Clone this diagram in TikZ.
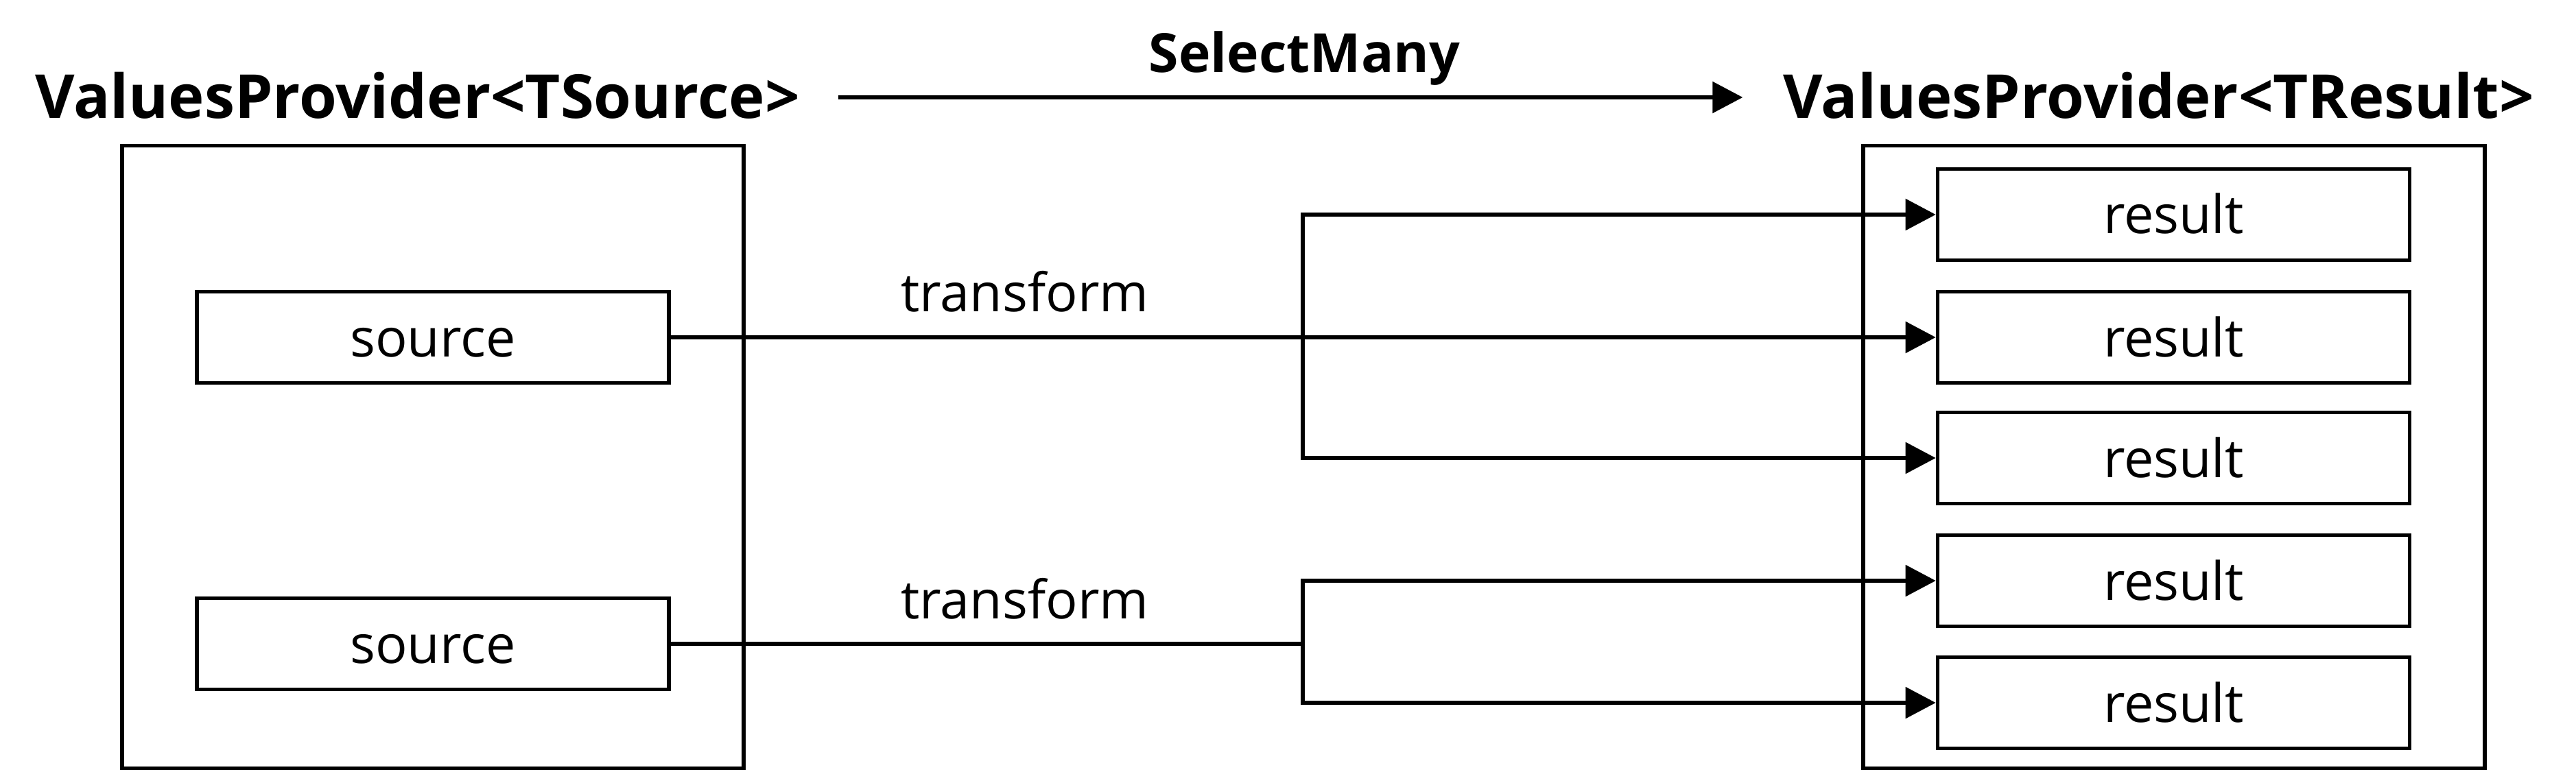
\documentclass[tikz,border=0pt]{standalone}
\usepackage{fontspec}
\setmainfont{Open Sans}
\usetikzlibrary{arrows.meta}

\begin{document}
\begin{tikzpicture}[
  holder/.style={draw, line width=1.6pt, minimum width=9.06cm, minimum height=9.08cm, inner sep=0pt},
  item/.style={draw, line width=1.6pt, minimum width=6.88cm, minimum height=1.33cm, inner sep=0pt, text height=0.56cm, text depth=0pt, font=\fontsize{22}{26}\selectfont},
  heading/.style={inner sep=0pt, anchor=base, text height=0.62cm, text depth=0pt, font=\fontsize{25.2}{30}\selectfont\bfseries},
  note/.style={inner sep=0pt, anchor=base, font=\fontsize{22}{26}\selectfont},
  wire/.style={line width=1.6pt},
  flow/.style={wire, -{Triangle[length=0.44cm, width=0.45cm]}}
]
  \useasboundingbox (0,0) rectangle (37.55,11.25);

  % Providers (Left and Right)
  \node[holder] (srcprov) at (6.31,4.585) {};
  \node[holder] (resprov) at (31.69,4.585) {};
  \node[heading] (srchead) at (6.085,9.52) {ValuesProvider<TSource>};
  \node[heading] (reshead) at (31.465,9.52) {ValuesProvider<TResult>};

  % SelectMany arrow
  \draw[flow, shorten <=0.56cm, shorten >=0.58cm] (srchead.east) -- (reshead.west);
  \node[note, font=\fontsize{22.4}{26}\selectfont\bfseries] (select) at (19.015,10.19) {SelectMany};

  % Sources
  \node[item] (src1) at (6.31,6.33) {source};
  \node[item] (src2) at (6.31,1.86) {source};

  % Results
  \foreach \y [count=\i] in {8.12,6.33,4.57,2.78,1.00}
    \node[item] (res\i) at (31.685,\y) {result};

  % Transforms
  \coordinate (fork1) at (18.99,6.33);
  \coordinate (fork2) at (18.99,1.86);
  \draw[flow] (src1) -- (res2);
  \draw[flow] (fork1) |- (res1);
  \draw[flow] (fork1) |- (res3);
  \draw[wire] (src2) -- (fork2);
  \draw[flow] (fork2) |- (res4);
  \draw[flow] (fork2) |- (res5);
  \node[note] (tf1) at (14.94,6.70) {transform};
  \node[note] (tf2) at (14.94,2.23) {transform};
\end{tikzpicture}
\end{document}
